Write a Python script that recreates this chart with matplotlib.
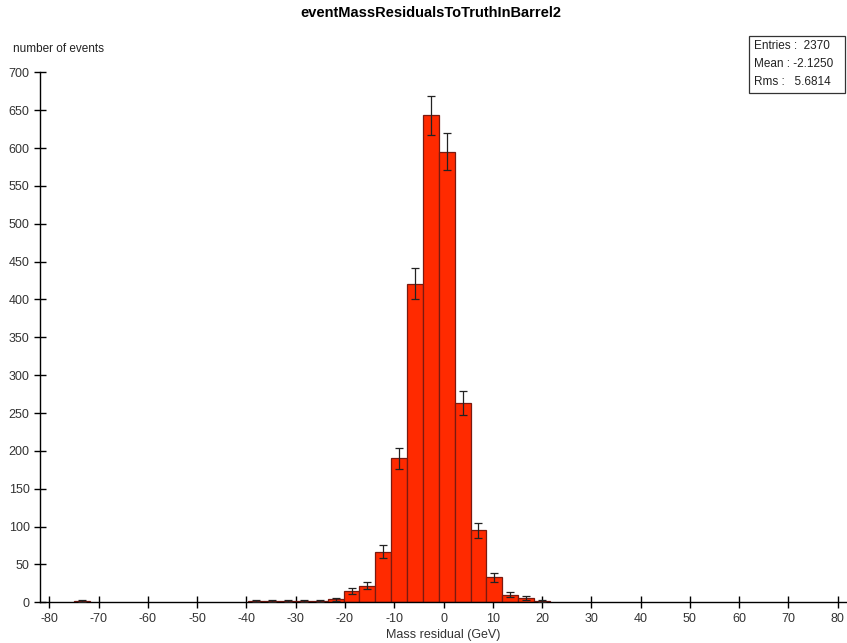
import numpy as np
import matplotlib
matplotlib.use("Agg")
import matplotlib.pyplot as plt

plt.rcParams['font.family'] = ['Liberation Sans', 'DejaVu Sans']
plt.rcParams['axes.unicode_minus'] = False

# histogram data
bin_width = 3.22
first_edge = -74.95
low_counts = [2]
main_first_edge = -39.59
main_counts = [2, 2, 2, 2, 2, 4, 15, 22, 67, 190, 421, 643, 595, 263, 95, 33, 10, 6, 2]
x_ticks = [-80, -70, -60, -50, -40, -30, -20, -10, 0, 10, 20, 30, 40, 50, 60, 70, 80]
y_ticks = [0, 50, 100, 150, 200, 250, 300, 350, 400, 450, 500, 550, 600, 650, 700]
title = "eventMassResidualsToTruthInBarrel2"
stats = ["Entries :  2370", "Mean : -2.1250", "Rms :   5.6814"]

fig = plt.figure(figsize=(8.47, 6.43), dpi=100)
ax = fig.add_axes([40/847, 1-602.3/643, 807/847, 530/643])

lefts = [first_edge + i*bin_width for i in range(len(low_counts))] + \
        [main_first_edge + i*bin_width for i in range(len(main_counts))]
counts = low_counts + main_counts
lefts = np.array(lefts); counts = np.array(counts, dtype=float)
centers = lefts + bin_width/2

ax.bar(lefts, counts, width=bin_width, align='edge', color='#ff2a00',
       edgecolor='#7a1a10', linewidth=0.9, zorder=2)
ax.errorbar(centers, counts, yerr=np.sqrt(counts), fmt='none', ecolor='#222222',
            elinewidth=0.9, capsize=3, capthick=0.9, zorder=3)

ax.set_xlim(-81.9, 81.9)
ax.set_ylim(0, 700)
ax.set_xticks(x_ticks)
ax.set_yticks(y_ticks)
for s in ['top', 'right']:
    ax.spines[s].set_visible(False)
ax.spines['left'].set_linewidth(1.0)
ax.spines['bottom'].set_linewidth(1.0)
ax.tick_params(direction='inout', length=8, width=1.0, labelsize=9, labelcolor='#333333')
ax.set_xlabel("Mass residual (GeV)", fontsize=9, color='#333333', labelpad=3)

fig.text(431/847, 1-13/643, title, ha='center', va='center', fontsize=10.5, fontweight='bold')
fig.text(13/847, 1-49/643, "number of events", ha='left', va='center', fontsize=8.5, color='#222222')

# stats box
box = matplotlib.patches.Rectangle((749/847, 1-93/643), 96/847, 57/643, transform=fig.transFigure,
                                   facecolor='white', edgecolor='#333333', linewidth=0.9)
fig.add_artist(box)
for i, s in enumerate(stats):
    fig.text(754/847, 1-(46+18*i)/643, s, ha='left', va='center', fontsize=8.5, color='#222222')

fig.savefig("out.png", dpi=100)
